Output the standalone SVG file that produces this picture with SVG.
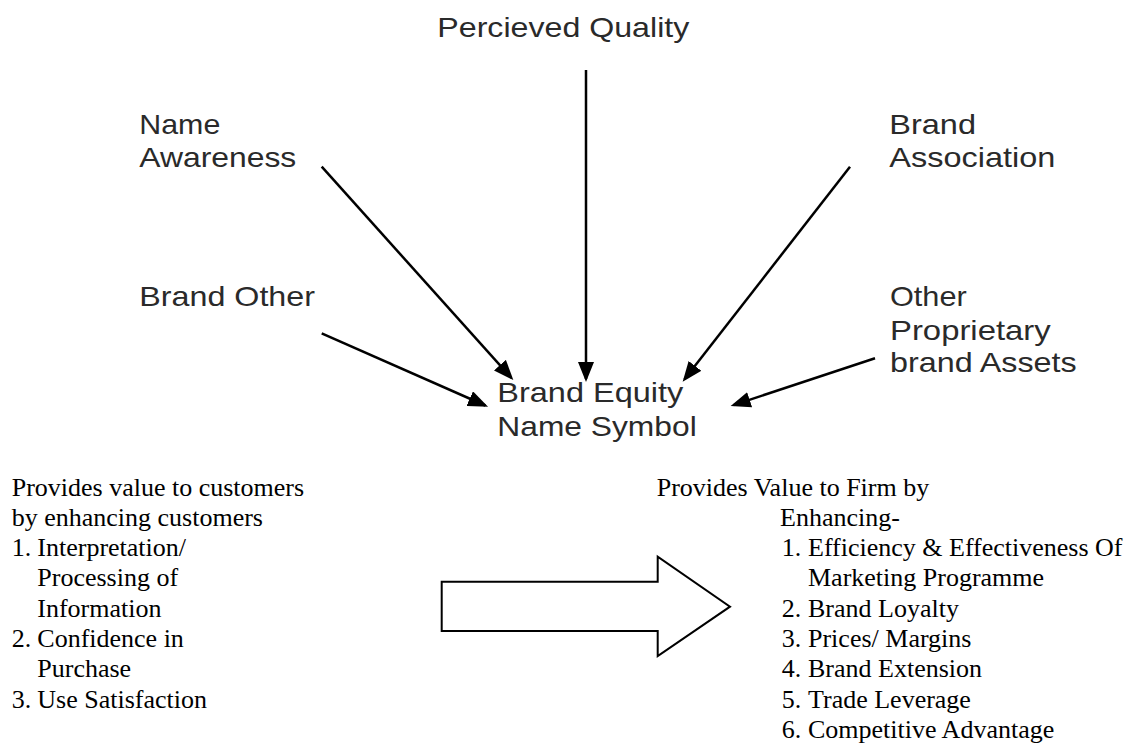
<svg xmlns="http://www.w3.org/2000/svg" width="1136" height="744" viewBox="0 0 1136 744">
<style>
.sans{font-family:"Liberation Sans",Arial,sans-serif;font-size:28px;fill:#2a2a2a}
.serif{font-family:"Liberation Serif","Times New Roman",serif;font-size:26px;fill:#000}
.conn{stroke:#000;stroke-width:2.5;fill:none;marker-end:url(#ah)}
.block{fill:#fff;stroke:#000;stroke-width:2}
</style>
<defs>
<marker id="ah" markerUnits="userSpaceOnUse" markerWidth="20" markerHeight="16" refX="17" refY="8" orient="auto">
<path d="M0,0 L20,8 L0,16 Z" fill="#000"/>
</marker>
</defs>
<rect width="1136" height="744" fill="#fff"/>
<g id="perceived-quality">
<text class="sans" x="437.3" y="36.7" textLength="252" lengthAdjust="spacingAndGlyphs">Percieved Quality</text>
</g>
<g id="name-awareness">
<text class="sans" x="139.3" y="134" textLength="81" lengthAdjust="spacingAndGlyphs">Name</text>
<text class="sans" x="139.3" y="167" textLength="157" lengthAdjust="spacingAndGlyphs">Awareness</text>
</g>
<g id="brand-association">
<text class="sans" x="889.3" y="134" textLength="86.7" lengthAdjust="spacingAndGlyphs">Brand</text>
<text class="sans" x="889.3" y="167" textLength="166" lengthAdjust="spacingAndGlyphs">Association</text>
</g>
<g id="brand-other">
<text class="sans" x="139.3" y="306" textLength="175.7" lengthAdjust="spacingAndGlyphs">Brand Other</text>
</g>
<g id="other-proprietary">
<text class="sans" x="890" y="306" textLength="76.7" lengthAdjust="spacingAndGlyphs">Other</text>
<text class="sans" x="890" y="339.5" textLength="160.7" lengthAdjust="spacingAndGlyphs">Proprietary</text>
<text class="sans" x="890" y="372" textLength="186.7" lengthAdjust="spacingAndGlyphs">brand Assets</text>
</g>
<g id="brand-equity">
<text class="sans" x="497.3" y="401.7" textLength="186" lengthAdjust="spacingAndGlyphs">Brand Equity</text>
<text class="sans" x="497.3" y="436" textLength="199.4" lengthAdjust="spacingAndGlyphs">Name Symbol</text>
</g>
<g id="connectors">
<line class="conn" x1="586" y1="70" x2="586" y2="379"/>
<line class="conn" x1="321.7" y1="166.7" x2="511.3" y2="377.8"/>
<line class="conn" x1="321.7" y1="333.3" x2="485.3" y2="405.5"/>
<line class="conn" x1="850" y1="166.7" x2="684.5" y2="379.3"/>
<line class="conn" x1="875" y1="358.3" x2="733.5" y2="405.1"/>
</g>
<g id="customer-value">
<text class="serif" x="11.7" y="495.5">Provides value to customers</text>
<text class="serif" x="11.7" y="525.5">by enhancing customers</text>
<text class="serif" x="11.7" y="555.5">1.</text>
<text class="serif" x="37.3" y="555.5">Interpretation/</text>
<text class="serif" x="37.3" y="586">Processing of</text>
<text class="serif" x="37.3" y="616.5">Information</text>
<text class="serif" x="11.7" y="647">2.</text>
<text class="serif" x="37.3" y="647">Confidence in</text>
<text class="serif" x="37.3" y="677">Purchase</text>
<text class="serif" x="11.7" y="707.5">3.</text>
<text class="serif" x="37.3" y="707.5">Use Satisfaction</text>
</g>
<g id="value-arrow">
<polygon class="block" points="441.7,581.7 657.7,581.7 657.7,556.7 730,606.7 657.7,656 657.7,631 441.7,631"/>
</g>
<g id="firm-value">
<text class="serif" x="656.7" y="495.5">Provides Value to Firm by</text>
<text class="serif" x="780" y="525.5">Enhancing-</text>
<text class="serif" x="781.7" y="555.7">1.</text>
<text class="serif" x="808" y="555.7">Efficiency &amp; Effectiveness Of</text>
<text class="serif" x="808" y="586">Marketing Programme</text>
<text class="serif" x="781.7" y="616.5">2.</text>
<text class="serif" x="808" y="616.5">Brand Loyalty</text>
<text class="serif" x="781.7" y="647">3.</text>
<text class="serif" x="808" y="647">Prices/ Margins</text>
<text class="serif" x="781.7" y="677">4.</text>
<text class="serif" x="808" y="677">Brand Extension</text>
<text class="serif" x="781.7" y="707.5">5.</text>
<text class="serif" x="808" y="707.5">Trade Leverage</text>
<text class="serif" x="781.7" y="738">6.</text>
<text class="serif" x="808" y="738">Competitive Advantage</text>
</g>
</svg>
